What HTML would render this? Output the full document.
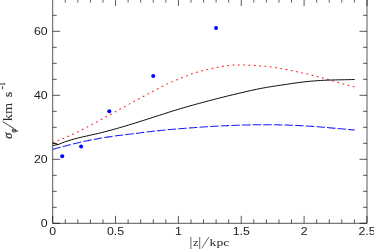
<!DOCTYPE html>
<html><head><meta charset="utf-8"><style>
html,body{margin:0;padding:0;background:#fff;}
body{width:374px;height:249px;overflow:hidden;}
svg{display:block;}
.t text{font-family:"Liberation Sans",sans-serif;font-size:11px;fill:#1c1c1c;}
.l{font-family:"Liberation Serif",serif;font-size:11px;fill:#2a2a2a;}
</style></head><body>
<svg width="374" height="249" viewBox="0 0 374 249">
<rect width="374" height="249" fill="#fff"/>
<g fill="none" stroke="#000" stroke-width="0.66">
<path d="M52.7,-1.5V223.3H367.0V-1.5"/>
<path d="M52.70,223.30v-7.5M65.27,223.30v-4.0M65.27,-1.50v4.0M77.84,223.30v-4.0M77.84,-1.50v4.0M90.41,223.30v-4.0M90.41,-1.50v4.0M102.98,223.30v-4.0M102.98,-1.50v4.0M115.55,223.30v-7.5M115.55,-1.50v7.5M128.12,223.30v-4.0M128.12,-1.50v4.0M140.69,223.30v-4.0M140.69,-1.50v4.0M153.26,223.30v-4.0M153.26,-1.50v4.0M165.83,223.30v-4.0M165.83,-1.50v4.0M178.40,223.30v-7.5M178.40,-1.50v7.5M190.97,223.30v-4.0M190.97,-1.50v4.0M203.54,223.30v-4.0M203.54,-1.50v4.0M216.11,223.30v-4.0M216.11,-1.50v4.0M228.68,223.30v-4.0M228.68,-1.50v4.0M241.25,223.30v-7.5M241.25,-1.50v7.5M253.82,223.30v-4.0M253.82,-1.50v4.0M266.39,223.30v-4.0M266.39,-1.50v4.0M278.96,223.30v-4.0M278.96,-1.50v4.0M291.53,223.30v-4.0M291.53,-1.50v4.0M304.10,223.30v-7.5M304.10,-1.50v7.5M316.67,223.30v-4.0M316.67,-1.50v4.0M329.24,223.30v-4.0M329.24,-1.50v4.0M341.81,223.30v-4.0M341.81,-1.50v4.0M354.38,223.30v-4.0M354.38,-1.50v4.0M366.95,223.30v-7.5M366.95,-1.50v7.5M52.70,223.30h7.5M367.00,223.30h-7.5M52.70,207.30h4.0M367.00,207.30h-4.0M52.70,191.30h4.0M367.00,191.30h-4.0M52.70,175.30h4.0M367.00,175.30h-4.0M52.70,159.30h7.5M367.00,159.30h-7.5M52.70,143.30h4.0M367.00,143.30h-4.0M52.70,127.30h4.0M367.00,127.30h-4.0M52.70,111.30h4.0M367.00,111.30h-4.0M52.70,95.30h7.5M367.00,95.30h-7.5M52.70,79.30h4.0M367.00,79.30h-4.0M52.70,63.30h4.0M367.00,63.30h-4.0M52.70,47.30h4.0M367.00,47.30h-4.0M52.70,31.30h7.5M367.00,31.30h-7.5M52.70,15.30h4.0M367.00,15.30h-4.0M52.70,-0.70h4.0M367.00,-0.70h-4.0"/>
</g>
<g class="t" style="filter:grayscale(1)"><text transform="translate(52.70,234.6) scale(1.12,1)" text-anchor="middle">0</text><text transform="translate(115.55,234.6) scale(1.12,1)" text-anchor="middle">0.5</text><text transform="translate(178.40,234.6) scale(1.12,1)" text-anchor="middle">1</text><text transform="translate(241.25,234.6) scale(1.12,1)" text-anchor="middle">1.5</text><text transform="translate(304.10,234.6) scale(1.12,1)" text-anchor="middle">2</text><text transform="translate(366.95,234.6) scale(1.12,1)" text-anchor="middle">2.5</text><text transform="translate(47.6,227.20) scale(1.12,1)" text-anchor="end">0</text><text transform="translate(47.6,163.20) scale(1.12,1)" text-anchor="end">20</text><text transform="translate(47.6,99.20) scale(1.12,1)" text-anchor="end">40</text><text transform="translate(47.6,35.20) scale(1.12,1)" text-anchor="end">60</text></g>
<g style="filter:grayscale(1)">
<path d="M190.9,237V249M199.7,237V249M201.8,248.4L208.9,236.9" stroke="#000" stroke-width="0.6" fill="none"/>
<text class="l" x="192.9" y="246.1" textLength="5.4" lengthAdjust="spacingAndGlyphs">z</text>
<text class="l" x="209.6" y="246.1" textLength="19.8" lengthAdjust="spacingAndGlyphs">kpc</text>
</g>
<g transform="translate(12.1,138.8) rotate(-90)" style="filter:grayscale(1)">
<text class="l" x="0" y="0" textLength="6.0" lengthAdjust="spacingAndGlyphs" style="font-size:12.5px;font-style:italic;stroke:#2a2a2a;stroke-width:0.25">σ</text>
<text class="l" x="6.4" y="3.5" textLength="4.0" lengthAdjust="spacingAndGlyphs" style="font-size:7.2px;font-style:italic;stroke:#2a2a2a;stroke-width:0.3">φ</text>
<path d="M10.3,1.8L17.2,-9.4" stroke="#000" stroke-width="0.75" fill="none"/>
<text class="l" x="17.6" y="0" textLength="18.4" lengthAdjust="spacingAndGlyphs" style="font-size:12px">km</text>
<text class="l" x="41.8" y="0" textLength="5.2" lengthAdjust="spacingAndGlyphs" style="font-size:12.5px;stroke:#2a2a2a;stroke-width:0.2">s</text>
<path d="M49.3,-9.5H52.8" stroke="#000" stroke-width="0.7" fill="none"/>
<text class="l" x="53.4" y="-7.2" textLength="3" lengthAdjust="spacingAndGlyphs" style="font-size:7.5px;stroke:#2a2a2a;stroke-width:0.2">1</text>
</g>
<g fill="none" stroke-linejoin="round">
<path d="M52.70,149.30 L54.22,148.89 L55.73,148.48 L57.25,148.08 L58.77,147.67 L60.29,147.27 L61.80,146.87 L63.32,146.48 L64.84,146.08 L66.35,145.69 L67.87,145.31 L69.39,144.92 L70.91,144.54 L72.42,144.17 L73.94,143.79 L75.46,143.43 L76.97,143.06 L78.49,142.71 L80.01,142.36 L81.52,142.01 L83.04,141.67 L84.56,141.33 L86.08,141.01 L87.59,140.69 L89.11,140.37 L90.63,140.06 L92.14,139.76 L93.66,139.47 L95.18,139.18 L96.70,138.90 L98.21,138.62 L99.73,138.35 L101.25,138.09 L102.76,137.84 L104.28,137.59 L105.80,137.34 L107.32,137.11 L108.83,136.87 L110.35,136.65 L111.87,136.43 L113.38,136.21 L114.90,136.01 L116.42,135.80 L117.93,135.60 L119.45,135.40 L120.97,135.21 L122.49,135.02 L124.00,134.83 L125.52,134.64 L127.04,134.45 L128.55,134.27 L130.07,134.08 L131.59,133.90 L133.11,133.71 L134.62,133.52 L136.14,133.34 L137.66,133.15 L139.17,132.96 L140.69,132.77 L142.21,132.58 L143.73,132.39 L145.24,132.20 L146.76,132.02 L148.28,131.83 L149.79,131.65 L151.31,131.47 L152.83,131.29 L154.34,131.12 L155.86,130.95 L157.38,130.78 L158.90,130.62 L160.41,130.46 L161.93,130.30 L163.45,130.15 L164.96,130.01 L166.48,129.86 L168.00,129.72 L169.52,129.59 L171.03,129.45 L172.55,129.32 L174.07,129.20 L175.58,129.07 L177.10,128.95 L178.62,128.82 L180.14,128.70 L181.65,128.58 L183.17,128.46 L184.69,128.35 L186.20,128.23 L187.72,128.11 L189.24,128.00 L190.75,127.88 L192.27,127.77 L193.79,127.65 L195.31,127.54 L196.82,127.43 L198.34,127.32 L199.86,127.21 L201.37,127.10 L202.89,127.00 L204.41,126.90 L205.93,126.80 L207.44,126.70 L208.96,126.60 L210.48,126.51 L211.99,126.42 L213.51,126.33 L215.03,126.24 L216.55,126.16 L218.06,126.08 L219.58,126.00 L221.10,125.92 L222.61,125.85 L224.13,125.78 L225.65,125.71 L227.16,125.64 L228.68,125.58 L230.20,125.52 L231.72,125.46 L233.23,125.40 L234.75,125.34 L236.27,125.29 L237.78,125.24 L239.30,125.19 L240.82,125.14 L242.34,125.09 L243.85,125.04 L245.37,125.00 L246.89,124.96 L248.40,124.92 L249.92,124.88 L251.44,124.84 L252.96,124.81 L254.47,124.78 L255.99,124.76 L257.51,124.74 L259.02,124.72 L260.54,124.71 L262.06,124.70 L263.57,124.70 L265.09,124.70 L266.61,124.70 L268.13,124.71 L269.64,124.72 L271.16,124.74 L272.68,124.76 L274.19,124.78 L275.71,124.81 L277.23,124.84 L278.75,124.87 L280.26,124.91 L281.78,124.94 L283.30,124.98 L284.81,125.03 L286.33,125.07 L287.85,125.12 L289.37,125.17 L290.88,125.22 L292.40,125.28 L293.92,125.34 L295.43,125.41 L296.95,125.47 L298.47,125.55 L299.98,125.62 L301.50,125.70 L303.02,125.78 L304.54,125.87 L306.05,125.96 L307.57,126.06 L309.09,126.16 L310.60,126.27 L312.12,126.37 L313.64,126.48 L315.16,126.60 L316.67,126.72 L318.19,126.84 L319.71,126.96 L321.22,127.08 L322.74,127.21 L324.26,127.34 L325.78,127.47 L327.29,127.60 L328.81,127.74 L330.33,127.87 L331.84,128.01 L333.36,128.14 L334.88,128.28 L336.39,128.42 L337.91,128.55 L339.43,128.69 L340.95,128.83 L342.46,128.96 L343.98,129.10 L345.50,129.23 L347.01,129.36 L348.53,129.49 L350.05,129.62 L351.57,129.75 L353.08,129.88 L354.60,130.00" stroke="#1a1aff" stroke-width="1.05" stroke-dasharray="8.445 2.2" stroke-dashoffset="0.31"/>
<path d="M52.70,142.25 L54.22,141.76 L55.73,141.25 L57.25,140.72 L58.76,140.16 L60.28,139.59 L61.80,139.01 L63.31,138.40 L64.83,137.78 L66.34,137.14 L67.86,136.48 L69.38,135.81 L70.89,135.13 L72.41,134.43 L73.93,133.72 L75.44,133.00 L76.96,132.26 L78.47,131.52 L79.99,130.76 L81.51,129.99 L83.02,129.22 L84.54,128.44 L86.05,127.64 L87.57,126.85 L89.09,126.04 L90.60,125.23 L92.12,124.41 L93.63,123.59 L95.15,122.77 L96.67,121.94 L98.18,121.11 L99.70,120.28 L101.21,119.45 L102.73,118.61 L104.25,117.78 L105.76,116.94 L107.28,116.11 L108.79,115.27 L110.31,114.44 L111.83,113.61 L113.34,112.77 L114.86,111.94 L116.38,111.11 L117.89,110.27 L119.41,109.44 L120.92,108.61 L122.44,107.78 L123.96,106.96 L125.47,106.13 L126.99,105.31 L128.50,104.48 L130.02,103.66 L131.54,102.84 L133.05,102.03 L134.57,101.21 L136.08,100.39 L137.60,99.58 L139.12,98.76 L140.63,97.95 L142.15,97.13 L143.66,96.32 L145.18,95.51 L146.70,94.69 L148.21,93.88 L149.73,93.06 L151.25,92.25 L152.76,91.43 L154.28,90.61 L155.79,89.79 L157.31,88.98 L158.83,88.18 L160.34,87.38 L161.86,86.59 L163.37,85.82 L164.89,85.07 L166.41,84.33 L167.92,83.62 L169.44,82.93 L170.95,82.26 L172.47,81.61 L173.99,80.97 L175.50,80.34 L177.02,79.73 L178.53,79.12 L180.05,78.51 L181.57,77.91 L183.08,77.31 L184.60,76.71 L186.12,76.12 L187.63,75.53 L189.15,74.95 L190.66,74.39 L192.18,73.84 L193.70,73.32 L195.21,72.81 L196.73,72.33 L198.24,71.88 L199.76,71.44 L201.28,71.03 L202.79,70.64 L204.31,70.26 L205.82,69.88 L207.34,69.52 L208.86,69.16 L210.37,68.80 L211.89,68.45 L213.40,68.11 L214.92,67.77 L216.44,67.46 L217.95,67.15 L219.47,66.86 L220.98,66.59 L222.50,66.33 L224.02,66.10 L225.53,65.89 L227.05,65.70 L228.57,65.53 L230.08,65.38 L231.60,65.25 L233.11,65.14 L234.63,65.06 L236.15,64.99 L237.66,64.94 L239.18,64.91 L240.69,64.90 L242.21,64.91 L243.73,64.93 L245.24,64.97 L246.76,65.02 L248.27,65.09 L249.79,65.17 L251.31,65.25 L252.82,65.35 L254.34,65.45 L255.85,65.56 L257.37,65.68 L258.89,65.80 L260.40,65.92 L261.92,66.04 L263.44,66.16 L264.95,66.30 L266.47,66.44 L267.98,66.59 L269.50,66.76 L271.02,66.94 L272.53,67.15 L274.05,67.37 L275.56,67.61 L277.08,67.87 L278.60,68.14 L280.11,68.42 L281.63,68.72 L283.14,69.01 L284.66,69.31 L286.18,69.62 L287.69,69.92 L289.21,70.22 L290.72,70.52 L292.24,70.82 L293.76,71.12 L295.27,71.42 L296.79,71.73 L298.31,72.04 L299.82,72.36 L301.34,72.69 L302.85,73.02 L304.37,73.36 L305.89,73.71 L307.40,74.07 L308.92,74.44 L310.43,74.82 L311.95,75.20 L313.47,75.59 L314.98,75.99 L316.50,76.39 L318.01,76.79 L319.53,77.21 L321.05,77.62 L322.56,78.04 L324.08,78.47 L325.59,78.89 L327.11,79.32 L328.63,79.75 L330.14,80.18 L331.66,80.61 L333.17,81.04 L334.69,81.47 L336.21,81.90 L337.72,82.33 L339.24,82.76 L340.76,83.18 L342.27,83.60 L343.79,84.02 L345.30,84.43 L346.82,84.84 L348.34,85.25 L349.85,85.64 L351.37,86.04 L352.88,86.42 L354.40,86.80" stroke="#ff1a1a" stroke-width="1.05" stroke-dasharray="1.8 3.53" stroke-dashoffset="0.2"/>
<path d="M52.7,143.0L58.4,144.5 M52.7,145.5L58.4,144.5" stroke="#000" stroke-width="0.9"/>
<path d="M58.40,144.50 L59.89,143.85 L61.38,143.23 L62.87,142.64 L64.35,142.08 L65.84,141.55 L67.33,141.05 L68.82,140.57 L70.31,140.11 L71.80,139.67 L73.28,139.25 L74.77,138.84 L76.26,138.46 L77.75,138.08 L79.24,137.72 L80.73,137.37 L82.22,137.02 L83.70,136.69 L85.19,136.35 L86.68,136.03 L88.17,135.70 L89.66,135.37 L91.15,135.04 L92.63,134.71 L94.12,134.37 L95.61,134.03 L97.10,133.68 L98.59,133.32 L100.08,132.96 L101.56,132.59 L103.05,132.21 L104.54,131.83 L106.03,131.44 L107.52,131.05 L109.01,130.65 L110.50,130.25 L111.98,129.84 L113.47,129.43 L114.96,129.01 L116.45,128.59 L117.94,128.17 L119.43,127.74 L120.91,127.31 L122.40,126.87 L123.89,126.43 L125.38,125.99 L126.87,125.54 L128.36,125.10 L129.85,124.64 L131.33,124.19 L132.82,123.73 L134.31,123.27 L135.80,122.81 L137.29,122.35 L138.78,121.88 L140.26,121.42 L141.75,120.95 L143.24,120.48 L144.73,120.00 L146.22,119.53 L147.71,119.06 L149.19,118.58 L150.68,118.10 L152.17,117.62 L153.66,117.14 L155.15,116.67 L156.64,116.19 L158.13,115.71 L159.61,115.22 L161.10,114.74 L162.59,114.26 L164.08,113.78 L165.57,113.31 L167.06,112.83 L168.54,112.35 L170.03,111.88 L171.52,111.41 L173.01,110.94 L174.50,110.48 L175.99,110.02 L177.48,109.56 L178.96,109.11 L180.45,108.66 L181.94,108.22 L183.43,107.79 L184.92,107.36 L186.41,106.93 L187.89,106.50 L189.38,106.08 L190.87,105.67 L192.36,105.26 L193.85,104.85 L195.34,104.44 L196.83,104.03 L198.31,103.63 L199.80,103.23 L201.29,102.83 L202.78,102.43 L204.27,102.03 L205.76,101.63 L207.24,101.23 L208.73,100.84 L210.22,100.44 L211.71,100.05 L213.20,99.66 L214.69,99.27 L216.17,98.88 L217.66,98.50 L219.15,98.12 L220.64,97.74 L222.13,97.36 L223.62,96.99 L225.11,96.62 L226.59,96.25 L228.08,95.88 L229.57,95.52 L231.06,95.16 L232.55,94.80 L234.04,94.45 L235.52,94.09 L237.01,93.74 L238.50,93.39 L239.99,93.04 L241.48,92.69 L242.97,92.34 L244.46,91.99 L245.94,91.65 L247.43,91.31 L248.92,90.97 L250.41,90.63 L251.90,90.30 L253.39,89.97 L254.87,89.65 L256.36,89.33 L257.85,89.03 L259.34,88.73 L260.83,88.44 L262.32,88.16 L263.81,87.89 L265.29,87.62 L266.78,87.37 L268.27,87.12 L269.76,86.87 L271.25,86.63 L272.74,86.40 L274.22,86.17 L275.71,85.94 L277.20,85.72 L278.69,85.49 L280.18,85.27 L281.67,85.05 L283.15,84.83 L284.64,84.60 L286.13,84.38 L287.62,84.16 L289.11,83.93 L290.60,83.71 L292.09,83.49 L293.57,83.28 L295.06,83.06 L296.55,82.86 L298.04,82.66 L299.53,82.46 L301.02,82.27 L302.50,82.09 L303.99,81.92 L305.48,81.75 L306.97,81.59 L308.46,81.44 L309.95,81.30 L311.44,81.16 L312.92,81.03 L314.41,80.91 L315.90,80.80 L317.39,80.69 L318.88,80.59 L320.37,80.50 L321.85,80.41 L323.34,80.33 L324.83,80.26 L326.32,80.20 L327.81,80.14 L329.30,80.08 L330.78,80.04 L332.27,79.99 L333.76,79.95 L335.25,79.92 L336.74,79.88 L338.23,79.85 L339.72,79.82 L341.20,79.80 L342.69,79.77 L344.18,79.74 L345.67,79.71 L347.16,79.68 L348.65,79.65 L350.13,79.62 L351.62,79.58 L353.11,79.54 L354.60,79.50" stroke="#000" stroke-width="1.0"/>
</g>
<g fill="#0000ff"><circle cx="62.2" cy="156.15" r="2"/><circle cx="81.1" cy="146.6" r="2"/><circle cx="109.3" cy="111.3" r="2"/><circle cx="153.2" cy="76.1" r="2"/><circle cx="216.05" cy="28.05" r="2"/></g>
</svg>
</body></html>
